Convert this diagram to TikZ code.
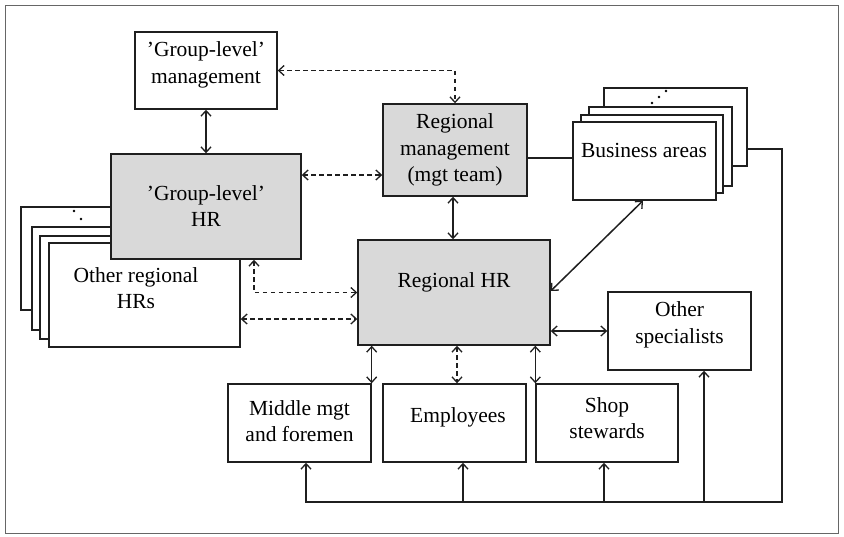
\documentclass[tikz,border=0pt]{standalone}
\usepackage{fontspec}
\setmainfont{Liberation Serif}
\usetikzlibrary{arrows.meta,shadows}

\definecolor{boxgray}{HTML}{D9D9D9}
\definecolor{linegray}{HTML}{1F1F1F}

\tikzset{
  box/.style={draw=linegray, line width=1.4pt, fill=white, rectangle, inner sep=0pt,
    drop shadow={shadow xshift=1.3pt, shadow yshift=-1.3pt, fill=black!45, opacity=0.45}},
  graybox/.style={box, fill=boxgray},
  txt/.style={align=center, font=\fontsize{21.5}{26.5}\selectfont, inner sep=0pt},
  link/.style={draw=linegray, line width=1.5pt},
  tip/.tip={Straight Barb[length=5.5pt,width=10pt,line width=1.3pt]},
  arr/.style={link, -tip},
  biarr/.style={link, tip-tip},
  dasharr/.style={biarr, dash pattern=on 4.5pt off 3.5pt},
  frame/.style={draw=black!60, line width=1pt},
  dotmark/.style={fill=black, draw=none}
}

\begin{document}
\begin{tikzpicture}[x=1pt, y=-1pt]
  \useasboundingbox (0,0) rectangle (844,536);
  \draw[frame] (5,5) rectangle (838,533);

  % Stack of other regional HR units
  \node[box, minimum width=191pt, minimum height=103pt] (orhr4) at (116.5,258.5) {};
  \node[box, minimum width=191pt, minimum height=103pt] (orhr3) at (127.5,278.5) {};
  \node[box, minimum width=191pt, minimum height=103pt] (orhr2) at (135.5,287.5) {};
  \node[box, minimum width=191pt, minimum height=104pt] (orhr) at (144.5,295) {};
  \fill[dotmark] (74,211) circle (1.3pt) (81,219) circle (1.3pt);
  \node[txt] at (136,288) {Other regional\\HRs};

  % Group level
  \node[box, minimum width=142pt, minimum height=77pt] (gm) at (206,70.5) {};
  \node[txt] at (206,65) {’Group-level’\\management};
  \node[graybox, minimum width=190pt, minimum height=105pt] (ghr) at (206,206.5) {};
  \node[txt] at (206,206) {’Group-level’\\HR};

  % Regional level
  \node[graybox, minimum width=144pt, minimum height=92pt] (rm) at (455,150) {};
  \node[txt] at (455,150) {Regional\\management\\(mgt team)};
  \node[graybox, minimum width=192pt, minimum height=105pt] (rhr) at (454,292.5) {};
  \node[txt] at (454,282) {Regional HR};

  % Stack of business areas
  \node[box, minimum width=143pt, minimum height=78pt] (ba4) at (675.5,127) {};
  \fill[dotmark] (652,103) circle (1.3pt) (659,97) circle (1.3pt) (666,91) circle (1.3pt);
  \node[box, minimum width=143pt, minimum height=79pt] (ba3) at (660.5,146.5) {};
  \node[box, minimum width=142pt, minimum height=78pt] (ba2) at (652,154) {};
  \node[box, minimum width=143pt, minimum height=78pt] (ba) at (644.5,161) {};
  \node[txt] at (644,150) {Business areas};

  % Other units
  \node[box, minimum width=143pt, minimum height=78pt] (os) at (679.5,331) {};
  \node[txt] at (679.5,325) {Other\\specialists};
  \node[box, minimum width=143pt, minimum height=78pt] (mm) at (299.5,423) {};
  \node[txt] at (299.5,421) {Middle mgt\\and foremen};
  \node[box, minimum width=143pt, minimum height=78pt] (emp) at (454.5,423) {};
  \node[txt] at (458,417) {Employees};
  \node[box, minimum width=142pt, minimum height=78pt] (ss) at (607,423) {};
  \node[txt] at (607,418) {Shop\\stewards};

  % Solid two-way links
  \draw[biarr] (gm.south) -- (gm.south |- ghr.north);
  \draw[biarr] ([xshift=-2pt]rm.south) -- ([xshift=-2pt]rm.south |- rhr.north);
  \draw[biarr] ([yshift=1.5pt]rhr.east) -- ([xshift=-1.5pt]ba.south);
  \draw[biarr] (os.west -| rhr.east) -- (os.west);
  \draw[biarr] (mm.north east |- rhr.south) -- (mm.north east);
  \draw[biarr] (ss.north west |- rhr.south) -- (ss.north west);

  % Dashed two-way links
  \draw[dasharr] (gm.east) -| (rm.north);
  \draw[dasharr] ([yshift=31.5pt]ghr.east) -- ([yshift=31.5pt]ghr.east -| rm.west);
  \draw[dasharr] ([xshift=48pt]ghr.south) |- (rhr.west);
  \draw[dasharr] ([yshift=-24pt]orhr.east) -- ([yshift=-24pt]orhr.east -| rhr.west);
  \draw[dasharr] ([xshift=2.5pt]emp.north |- rhr.south) -- ([xshift=2.5pt]emp.north);

  % Plain link to business areas
  \draw[link] ([yshift=-8pt]rm.east) -- ([yshift=-8pt]rm.east -| ba.west);

  % Feedback line from business areas to the lower units
  \coordinate (fbtop) at (782,149);
  \coordinate (fbbot) at (782,502);
  \draw[arr] (ba4.east |- fbtop) -- (fbtop) -- (fbbot) -| ([xshift=6.5pt]mm.south);
  \draw[arr] ([xshift=8.5pt]emp.south |- fbbot) -- ([xshift=8.5pt]emp.south);
  \draw[arr] ([xshift=-3pt]ss.south |- fbbot) -- ([xshift=-3pt]ss.south);
  \draw[arr] ([xshift=24.5pt]os.south |- fbbot) -- ([xshift=24.5pt]os.south);
\end{tikzpicture}
\end{document}
